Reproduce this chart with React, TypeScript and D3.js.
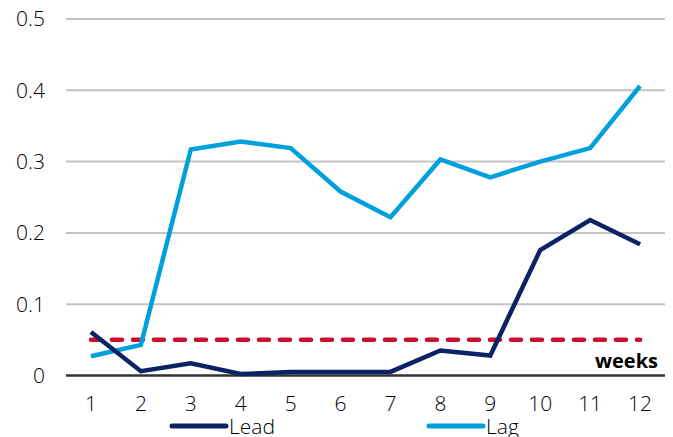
import React from "react";
import * as d3 from "d3";

const weeks = ["1", "2", "3", "4", "5", "6", "7", "8", "9", "10", "11", "12"];
const leadValues = [0.061, 0.006, 0.017, 0.002, 0.005, 0.005, 0.005, 0.035, 0.028, 0.176, 0.218, 0.184];
const lagValues = [0.027, 0.043, 0.317, 0.328, 0.319, 0.258, 0.222, 0.303, 0.278, 0.3, 0.319, 0.406];
const threshold = 0.05;
const yTicks = [0, 0.1, 0.2, 0.3, 0.4, 0.5];

const W = 673;
const H = 437;
const FONT = "'Open Sans', 'DejaVu Sans', sans-serif";
const LEAD = "#0b2265";
const LAG = "#00a0dd";
const RED = "#c8102e";
const INK = "#000";

export default function App() {
  const x = d3.scalePoint<string>().domain(weeks).range([66, 665]).padding(0.5);
  const y = d3.scaleLinear().domain([0, 0.5]).range([375.5, 19]);

  const line = d3
    .line<number>()
    .x((_, i) => x(weeks[i]) as number)
    .y((d) => y(d));

  const x0 = x(weeks[0]) as number;
  const x1 = x(weeks[weeks.length - 1]) as number;

  return (
    <svg
      width={W}
      height={H}
      style={{ position: "absolute", left: 0, top: 0, display: "block", background: "#fff" }}
      fontFamily={FONT}
    >
      {/* gridlines and y labels */}
      {yTicks.map((t) =>
        t === 0 ? null : (
          <line key={`g${t}`} x1={66} x2={665} y1={y(t)} y2={y(t)} stroke="#c4c4c4" strokeWidth={2} />
        )
      )}
      {yTicks.map((t) => (
        <text
          key={`t${t}`}
          x={45}
          y={y(t)}
          dy="0.35em"
          textAnchor="end"
          fontSize={21}
          fontWeight={300}
          fill={INK}
        >
          {t === 0 ? "0" : d3.format(".1f")(t)}
        </text>
      ))}
      {/* x baseline */}
      <line x1={66} x2={665} y1={y(0)} y2={y(0)} stroke="#333" strokeWidth={2.5} />
      {weeks.map((w) => (
        <text
          key={w}
          x={x(w)}
          y={404}
          dy="0.35em"
          textAnchor="middle"
          fontSize={21}
          fontWeight={300}
          fill={INK}
        >
          {w}
        </text>
      ))}
      <text x={658} y={368} textAnchor="end" fontSize={20} fontWeight="bold" fill="#000">
        weeks
      </text>

      {/* threshold */}
      <line
        x1={x0}
        x2={x1}
        y1={y(threshold)}
        y2={y(threshold)}
        stroke={RED}
        strokeWidth={4.5}
        strokeDasharray="10 11"
        strokeLinecap="round"
      />

      {/* series */}
      <path d={line(lagValues) ?? ""} fill="none" stroke={LAG} strokeWidth={4.5} strokeLinejoin="miter" />
      <path d={line(leadValues) ?? ""} fill="none" stroke={LEAD} strokeWidth={4.5} strokeLinejoin="miter" />

      {/* legend */}
      <line x1={172} x2={226} y1={426} y2={426} stroke={LEAD} strokeWidth={5} strokeLinecap="round" />
      <text x={229} y={434} fontSize={21} fontWeight={300} fill={INK}>Lead</text>
      <line x1={429} x2={483} y1={426} y2={426} stroke={LAG} strokeWidth={5} strokeLinecap="round" />
      <text x={486} y={434} fontSize={21} fontWeight={300} fill={INK}>Lag</text>
    </svg>
  );
}
